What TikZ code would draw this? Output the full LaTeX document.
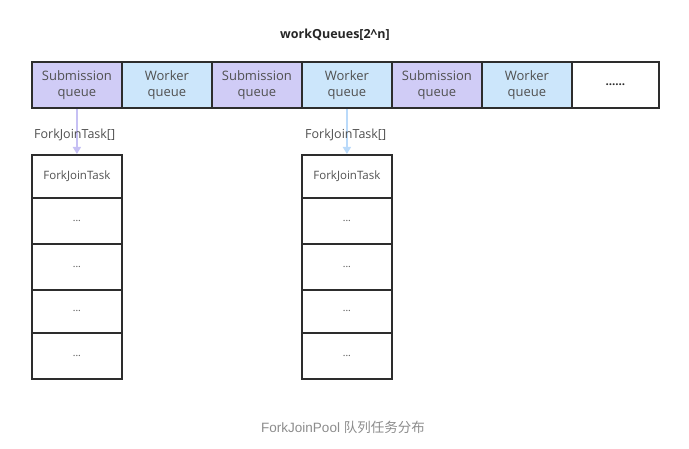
\documentclass[tikz,border=0pt]{standalone}
\usepackage{fontspec}
\setmainfont{Open Sans}
\newfontfamily\cjk{Noto Sans CJK SC}
\newfontfamily\capfont{Liberation Sans}
\usetikzlibrary{arrows.meta}
\definecolor{subfill}{RGB}{208,204,246}
\definecolor{wrkfill}{RGB}{204,230,251}
\definecolor{subarrow}{RGB}{198,192,244}
\definecolor{wrkarrow}{RGB}{186,218,250}
\definecolor{edge}{RGB}{45,45,45}
\definecolor{txt}{RGB}{80,80,80}
\definecolor{captxt}{RGB}{140,140,140}
\begin{document}
\begin{tikzpicture}[x=1pt,y=-1pt,
  cell/.style={draw=edge,line width=1.8pt,minimum width=90pt,minimum height=46pt,inner sep=0pt,
    align=center,text=txt,font=\fontsize{13}{16}\selectfont,anchor=north west},
  subq/.style={cell,fill=subfill},
  wrkq/.style={cell,fill=wrkfill},
  taskcell/.style={draw=edge,line width=1.8pt,minimum width=90pt,inner sep=0pt,anchor=north west,
    text=txt,font=\fontsize{11.5}{13}\selectfont},
  dotcell/.style={taskcell,font=\fontsize{10}{11}\selectfont},
  arrlbl/.style={anchor=west,text=txt,font=\fontsize{12.5}{14}\selectfont,inner sep=0pt},
  qarrow/.style={line width=1.6pt,-{Triangle[length=7pt,width=8pt]}}
]
\useasboundingbox (0,0) rectangle (689,449);
\node[font=\bfseries\fontsize{12.5}{14}\selectfont,text=black!85] (title) at (335,35) {workQueues[2\string^n]};
\node[subq] (q1) at (31,61) {Submission\\queue};
\node[wrkq] (q2) at (121,61) {Worker\\queue};
\node[subq] (q3) at (211,61) {Submission\\queue};
\node[wrkq] (q4) at (301,61) {Worker\\queue};
\node[subq] (q5) at (391,61) {Submission\\queue};
\node[wrkq] (q6) at (481,61) {Worker\\queue};
\node[cell,minimum width=87pt,fill=white,font=\bfseries\fontsize{11.5}{12}\selectfont,text=edge] (q7) at (571,61) {......};
% left column
\node[taskcell,minimum height=43pt] (a1) at (31,154) {ForkJoinTask};
\node[dotcell,minimum height=46pt] (a2) at (31,197) {...};
\node[dotcell,minimum height=46pt] (a3) at (31,243) {...};
\node[dotcell,minimum height=43pt] (a4) at (31,289) {...};
\node[dotcell,minimum height=46pt] (a5) at (31,332) {...};
% right column
\node[taskcell,minimum height=43pt] (b1) at (301,154) {ForkJoinTask};
\node[dotcell,minimum height=46pt] (b2) at (301,197) {...};
\node[dotcell,minimum height=46pt] (b3) at (301,243) {...};
\node[dotcell,minimum height=43pt] (b4) at (301,289) {...};
\node[dotcell,minimum height=46pt] (b5) at (301,332) {...};
\draw[qarrow,subarrow] (q1.south) -- (a1.north);
\draw[qarrow,wrkarrow] (q4.south) -- (b1.north);
\node[arrlbl] (la) at (34,135) {ForkJoinTask[]};
\node[arrlbl] (lb) at (305,135) {ForkJoinTask[]};
\node[text=captxt,font=\capfont\fontsize{13.5}{15}\selectfont] (cap) at (343,427) {ForkJoinPool {\cjk 队列任务分布}};
\end{tikzpicture}
\end{document}
